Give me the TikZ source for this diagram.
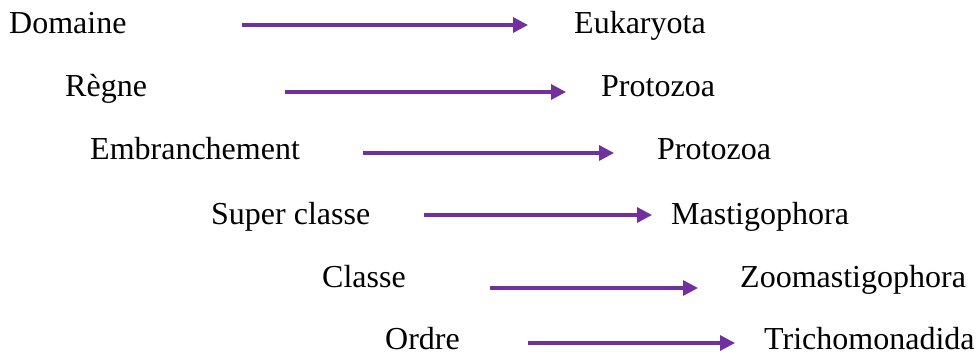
\documentclass[tikz,border=0pt]{standalone}
\usepackage{fontspec}
\setmainfont{Liberation Serif}
\usetikzlibrary{arrows.meta}
\definecolor{violet}{HTML}{7030A0}
\tikzset{
    rang/.style={anchor=base west, inner sep=0pt, font=\fontsize{32}{38}\selectfont},
    fleche/.style={draw=violet, line width=3.3pt, -{Triangle[length=15pt, width=15pt]}}
}
\begin{document}
\begin{tikzpicture}[x=1pt, y=1pt]
    \useasboundingbox (0, 0) rectangle (978, -355);
    % rangs taxonomiques
    \node[rang] (dom) at (9, -34) {Domaine};
    \node[rang] (reg) at (65, -97) {Règne};
    \node[rang] (emb) at (90, -160) {Embranchement};
    \node[rang] (sup) at (211, -225) {Super classe};
    \node[rang] (cla) at (322, -288) {Classe};
    \node[rang] (ord) at (385, -350) {Ordre};
    % taxons
    \node[rang] (euk) at (574, -34) {Eukaryota};
    \node[rang] (pro) at (601, -97) {Protozoa};
    \node[rang] (prb) at (657, -160) {Protozoa};
    \node[rang] (mas) at (671, -225) {Mastigophora};
    \node[rang] (zoo) at (740, -288) {Zoomastigophora};
    \node[rang] (tri) at (764, -350) {Trichomonadida};
    % fleches
    \coordinate (d1) at (242, -25);  \coordinate (f1) at (528, -25);
    \coordinate (d2) at (285, -92);  \coordinate (f2) at (566, -92);
    \coordinate (d3) at (363, -153); \coordinate (f3) at (614, -153);
    \coordinate (d4) at (424, -215); \coordinate (f4) at (652, -215);
    \coordinate (d5) at (490, -288); \coordinate (f5) at (698, -288);
    \coordinate (d6) at (528, -343); \coordinate (f6) at (735, -343);
    \foreach \i in {1,...,6}
        \draw[fleche] (d\i) -- (f\i);
\end{tikzpicture}
\end{document}
